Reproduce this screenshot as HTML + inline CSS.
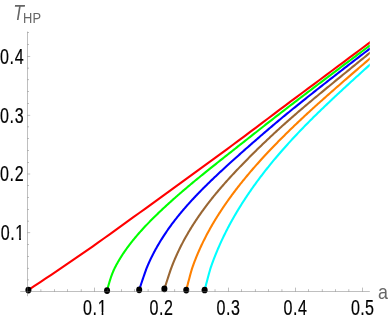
<!DOCTYPE html>
<html><head><meta charset="utf-8"><style>
html,body{margin:0;padding:0;background:#fff;overflow:hidden;}
svg{display:block;will-change:transform;font-family:"Liberation Sans",sans-serif;}
</style></head><body>
<svg width="388" height="319" viewBox="0 0 388 319">
<rect width="388" height="319" fill="#fff"/>
<defs><clipPath id="cp"><rect x="0" y="0" width="369.8" height="319"/></clipPath></defs>
<g clip-path="url(#cp)"><g><path d="M28.25 290.10 L34.09 286.21 L39.93 282.32 L45.77 278.43 L51.61 274.54 L57.45 270.62 L63.29 266.69 L69.13 262.73 L74.97 258.74 L80.81 254.71 L86.65 250.65 L92.49 246.55 L98.33 242.41 L104.17 238.25 L110.01 234.06 L115.85 229.85 L121.69 225.64 L127.53 221.42 L133.37 217.21 L139.21 213.00 L145.05 208.80 L150.89 204.58 L156.73 200.35 L162.57 196.11 L168.41 191.87 L174.25 187.61 L180.09 183.35 L185.93 179.10 L191.77 174.86 L197.61 170.62 L203.44 166.38 L209.28 162.14 L215.12 157.89 L220.96 153.62 L226.80 149.33 L232.64 145.02 L238.48 140.69 L244.32 136.33 L250.16 131.96 L256.00 127.57 L261.84 123.17 L267.68 118.76 L273.52 114.35 L279.36 109.96 L285.20 105.57 L291.04 101.20 L296.88 96.85 L302.72 92.50 L308.56 88.15 L314.40 83.81 L320.24 79.47 L326.08 75.12 L331.92 70.77 L337.76 66.42 L343.60 62.06 L349.44 57.70 L355.28 53.33 L361.12 48.97 L366.96 44.60 L372.80 40.22" stroke="#ff0000" stroke-width="2.10" fill="none" stroke-linejoin="round"/><path d="M107.05 290.60 L107.71 288.11 L108.36 285.72 L109.02 283.45 L109.67 281.28 L110.32 279.22 L110.97 277.26 L111.62 275.42 L112.27 273.68 L112.92 272.05 L113.57 270.53 L114.22 269.11 L114.86 267.80 L115.13 267.27 L115.40 266.74 L115.68 266.20 L115.97 265.66 L116.26 265.12 L116.55 264.57 L116.86 264.01 L117.16 263.46 L117.48 262.89 L117.80 262.33 L118.12 261.76 L118.45 261.19 L118.79 260.61 L119.13 260.03 L119.48 259.45 L119.84 258.86 L120.20 258.27 L120.56 257.67 L120.94 257.08 L121.32 256.48 L121.70 255.87 L122.09 255.26 L122.49 254.65 L122.89 254.04 L123.31 253.42 L123.72 252.80 L124.14 252.18 L124.57 251.55 L125.01 250.92 L125.45 250.29 L125.90 249.65 L126.36 249.01 L126.82 248.37 L127.29 247.73 L127.76 247.08 L128.24 246.43 L128.73 245.78 L129.23 245.12 L129.73 244.46 L130.24 243.80 L130.75 243.13 L131.27 242.47 L131.80 241.80 L132.34 241.12 L132.88 240.45 L133.43 239.77 L133.99 239.09 L134.55 238.40 L135.12 237.71 L135.70 237.02 L136.28 236.33 L136.88 235.63 L137.47 234.94 L138.08 234.23 L138.69 233.53 L139.32 232.82 L139.94 232.11 L140.58 231.40 L141.22 230.68 L141.87 229.97 L142.53 229.24 L143.19 228.52 L143.87 227.79 L144.54 227.06 L145.23 226.33 L145.93 225.59 L146.63 224.85 L147.34 224.11 L148.06 223.36 L148.78 222.61 L149.51 221.86 L150.25 221.11 L151.00 220.35 L151.76 219.59 L152.52 218.82 L153.29 218.05 L154.07 217.28 L154.86 216.51 L155.65 215.73 L156.45 214.95 L157.26 214.16 L158.08 213.37 L158.91 212.58 L159.74 211.79 L160.58 210.99 L161.44 210.18 L162.29 209.38 L163.16 208.57 L164.03 207.75 L164.92 206.94 L165.81 206.11 L166.71 205.29 L167.61 204.46 L168.53 203.63 L169.45 202.79 L170.39 201.95 L171.33 201.10 L172.27 200.25 L173.23 199.40 L174.20 198.54 L175.17 197.68 L176.15 196.81 L177.14 195.95 L178.14 195.07 L179.15 194.19 L180.17 193.31 L181.19 192.43 L182.23 191.54 L183.27 190.65 L184.32 189.75 L185.38 188.85 L186.44 187.94 L187.52 187.04 L188.61 186.12 L189.70 185.21 L190.80 184.28 L191.91 183.36 L193.04 182.43 L194.16 181.49 L195.30 180.55 L196.45 179.61 L197.61 178.66 L198.77 177.71 L199.94 176.75 L201.13 175.78 L202.32 174.82 L203.52 173.84 L204.73 172.86 L205.95 171.88 L207.18 170.89 L208.41 169.90 L209.66 168.90 L210.91 167.89 L212.18 166.88 L213.45 165.86 L214.74 164.84 L216.03 163.81 L217.33 162.77 L218.64 161.73 L219.96 160.68 L221.29 159.63 L222.63 158.57 L223.98 157.50 L225.33 156.43 L226.70 155.35 L228.08 154.26 L229.46 153.17 L230.86 152.06 L232.26 150.95 L233.68 149.84 L235.10 148.72 L236.53 147.59 L237.98 146.45 L239.43 145.30 L240.89 144.15 L242.36 142.99 L243.84 141.82 L245.34 140.65 L246.84 139.46 L248.35 138.27 L249.87 137.08 L251.40 135.87 L252.94 134.66 L254.49 133.44 L256.05 132.21 L257.62 130.98 L259.20 129.74 L260.78 128.49 L262.38 127.24 L263.99 125.97 L265.61 124.70 L267.24 123.43 L268.88 122.15 L270.53 120.86 L272.19 119.56 L273.86 118.26 L275.54 116.95 L277.23 115.64 L278.93 114.32 L280.64 112.99 L282.36 111.66 L284.09 110.32 L285.83 108.98 L287.58 107.63 L289.34 106.28 L291.11 104.92 L292.89 103.56 L294.68 102.19 L296.48 100.81 L298.30 99.43 L300.12 98.04 L301.95 96.64 L303.79 95.24 L305.65 93.83 L307.51 92.41 L309.39 90.99 L311.27 89.56 L313.17 88.12 L315.07 86.68 L316.99 85.22 L318.92 83.77 L320.86 82.30 L322.81 80.83 L324.76 79.35 L326.73 77.86 L328.71 76.37 L330.71 74.86 L332.71 73.36 L334.72 71.84 L336.74 70.32 L338.78 68.79 L340.82 67.25 L342.88 65.71 L344.94 64.16 L347.02 62.60 L349.11 61.04 L351.21 59.47 L353.32 57.89 L355.44 56.30 L357.57 54.71 L359.71 53.11 L361.87 51.51 L364.03 49.89 L366.21 48.28 L368.39 46.65 L370.59 45.02 L372.80 43.38" stroke="#00ff00" stroke-width="2.10" fill="none" stroke-linejoin="round"/><path d="M139.20 289.80 L140.19 286.81 L141.12 284.03 L141.98 281.46 L142.77 279.11 L143.50 276.97 L144.16 275.04 L144.75 273.32 L145.28 271.82 L145.74 270.53 L146.13 269.45 L146.46 268.59 L146.72 267.93 L146.95 267.38 L147.18 266.81 L147.42 266.25 L147.66 265.67 L147.91 265.10 L148.16 264.51 L148.42 263.92 L148.68 263.33 L148.95 262.73 L149.22 262.13 L149.50 261.52 L149.78 260.91 L150.07 260.29 L150.36 259.67 L150.66 259.04 L150.96 258.41 L151.27 257.77 L151.58 257.13 L151.90 256.49 L152.22 255.84 L152.55 255.18 L152.89 254.52 L153.23 253.86 L153.57 253.20 L153.93 252.53 L154.28 251.85 L154.64 251.17 L155.01 250.49 L155.39 249.80 L155.76 249.12 L156.15 248.42 L156.54 247.72 L156.94 247.02 L157.34 246.32 L157.74 245.61 L158.16 244.90 L158.58 244.18 L159.00 243.46 L159.43 242.74 L159.87 242.02 L160.31 241.29 L160.76 240.56 L161.22 239.82 L161.68 239.08 L162.14 238.34 L162.62 237.59 L163.09 236.85 L163.58 236.10 L164.07 235.34 L164.57 234.58 L165.07 233.82 L165.58 233.06 L166.10 232.29 L166.62 231.53 L167.15 230.75 L167.68 229.98 L168.22 229.20 L168.77 228.42 L169.32 227.64 L169.88 226.85 L170.45 226.06 L171.02 225.27 L171.61 224.48 L172.21 223.68 L172.81 222.88 L173.42 222.08 L174.04 221.27 L174.66 220.46 L175.29 219.65 L175.93 218.84 L176.57 218.03 L177.22 217.21 L177.88 216.39 L178.54 215.57 L179.22 214.74 L179.89 213.92 L180.58 213.09 L181.27 212.26 L181.97 211.42 L182.67 210.59 L183.38 209.75 L184.10 208.91 L184.83 208.07 L185.56 207.23 L186.30 206.38 L187.05 205.53 L187.80 204.68 L188.57 203.83 L189.33 202.98 L190.11 202.12 L190.89 201.26 L191.68 200.40 L192.48 199.54 L193.29 198.67 L194.10 197.80 L194.92 196.93 L195.74 196.06 L196.58 195.18 L197.42 194.30 L198.27 193.42 L199.12 192.54 L199.98 191.65 L200.86 190.77 L201.73 189.87 L202.62 188.98 L203.51 188.08 L204.41 187.18 L205.32 186.28 L206.24 185.38 L207.16 184.47 L208.09 183.56 L209.03 182.64 L209.98 181.72 L210.93 180.80 L211.89 179.88 L212.86 178.95 L213.84 178.02 L214.82 177.08 L215.81 176.14 L216.81 175.20 L217.82 174.25 L218.84 173.30 L219.86 172.35 L220.89 171.39 L221.93 170.42 L222.98 169.46 L224.03 168.48 L225.10 167.51 L226.17 166.53 L227.25 165.54 L228.33 164.55 L229.43 163.56 L230.53 162.56 L231.64 161.55 L232.76 160.54 L233.89 159.53 L235.03 158.51 L236.17 157.48 L237.32 156.45 L238.48 155.41 L239.65 154.37 L240.83 153.33 L242.01 152.27 L243.20 151.22 L244.41 150.15 L245.61 149.08 L246.83 148.01 L248.06 146.93 L249.29 145.84 L250.54 144.75 L251.79 143.66 L253.05 142.56 L254.32 141.45 L255.59 140.34 L256.88 139.22 L258.17 138.09 L259.47 136.97 L260.78 135.83 L262.10 134.69 L263.43 133.55 L264.77 132.40 L266.11 131.25 L267.46 130.09 L268.83 128.92 L270.20 127.76 L271.58 126.58 L272.96 125.41 L274.36 124.23 L275.77 123.04 L277.18 121.85 L278.60 120.66 L280.03 119.46 L281.47 118.26 L282.92 117.06 L284.38 115.85 L285.85 114.64 L287.32 113.42 L288.81 112.21 L290.30 110.99 L291.81 109.76 L293.32 108.54 L294.84 107.31 L296.37 106.07 L297.90 104.83 L299.45 103.59 L301.01 102.34 L302.57 101.09 L304.15 99.83 L305.73 98.56 L307.32 97.29 L308.93 96.01 L310.54 94.73 L312.16 93.45 L313.79 92.15 L315.42 90.86 L317.07 89.55 L318.73 88.24 L320.40 86.93 L322.07 85.61 L323.75 84.29 L325.45 82.96 L327.15 81.62 L328.86 80.28 L330.59 78.93 L332.32 77.58 L334.06 76.22 L335.81 74.86 L337.57 73.49 L339.34 72.11 L341.11 70.73 L342.90 69.35 L344.70 67.95 L346.50 66.56 L348.32 65.15 L350.15 63.75 L351.98 62.33 L353.83 60.91 L355.68 59.49 L357.54 58.06 L359.42 56.62 L361.30 55.18 L363.19 53.73 L365.09 52.28 L367.01 50.82 L368.93 49.35 L370.86 47.88 L372.80 46.41" stroke="#0000ff" stroke-width="2.10" fill="none" stroke-linejoin="round"/><path d="M164.40 288.85 L165.34 285.95 L166.21 283.26 L167.01 280.77 L167.76 278.49 L168.44 276.41 L169.05 274.54 L169.61 272.88 L170.10 271.42 L170.52 270.17 L170.88 269.13 L171.18 268.29 L171.41 267.66 L171.63 267.09 L171.85 266.51 L172.07 265.93 L172.30 265.34 L172.53 264.75 L172.77 264.15 L173.01 263.55 L173.25 262.94 L173.50 262.32 L173.76 261.70 L174.02 261.07 L174.28 260.44 L174.55 259.81 L174.82 259.16 L175.10 258.52 L175.38 257.86 L175.67 257.21 L175.96 256.55 L176.26 255.88 L176.56 255.21 L176.87 254.53 L177.18 253.85 L177.49 253.16 L177.82 252.47 L178.14 251.78 L178.47 251.08 L178.81 250.38 L179.15 249.67 L179.50 248.96 L179.85 248.24 L180.20 247.52 L180.57 246.79 L180.93 246.07 L181.30 245.33 L181.68 244.60 L182.06 243.86 L182.45 243.11 L182.84 242.37 L183.24 241.62 L183.65 240.86 L184.05 240.10 L184.47 239.34 L184.89 238.58 L185.31 237.81 L185.74 237.04 L186.18 236.26 L186.62 235.49 L187.07 234.70 L187.52 233.92 L187.98 233.13 L188.44 232.34 L188.91 231.55 L189.39 230.75 L189.87 229.95 L190.35 229.15 L190.84 228.35 L191.34 227.54 L191.85 226.73 L192.35 225.92 L192.87 225.10 L193.39 224.28 L193.92 223.46 L194.45 222.64 L194.99 221.82 L195.53 220.99 L196.08 220.16 L196.64 219.32 L197.20 218.49 L197.77 217.65 L198.34 216.81 L198.92 215.97 L199.51 215.12 L200.10 214.28 L200.70 213.43 L201.30 212.57 L201.91 211.72 L202.53 210.86 L203.15 210.01 L203.78 209.15 L204.41 208.28 L205.05 207.42 L205.70 206.55 L206.36 205.68 L207.02 204.81 L207.68 203.93 L208.35 203.06 L209.03 202.18 L209.72 201.30 L210.41 200.41 L211.11 199.53 L211.81 198.64 L212.52 197.75 L213.24 196.86 L213.97 195.96 L214.70 195.07 L215.44 194.17 L216.19 193.26 L216.95 192.36 L217.72 191.45 L218.49 190.54 L219.26 189.63 L220.05 188.72 L220.84 187.80 L221.64 186.88 L222.44 185.96 L223.25 185.03 L224.07 184.10 L224.89 183.17 L225.73 182.24 L226.56 181.30 L227.41 180.36 L228.26 179.42 L229.12 178.48 L229.98 177.53 L230.86 176.58 L231.74 175.62 L232.62 174.66 L233.51 173.70 L234.41 172.74 L235.32 171.77 L236.24 170.80 L237.16 169.83 L238.08 168.85 L239.02 167.87 L239.96 166.89 L240.91 165.90 L241.87 164.91 L242.83 163.91 L243.80 162.92 L244.78 161.91 L245.76 160.91 L246.76 159.90 L247.76 158.89 L248.76 157.87 L249.78 156.85 L250.80 155.83 L251.83 154.80 L252.86 153.77 L253.91 152.74 L254.96 151.70 L256.01 150.66 L257.08 149.62 L258.15 148.57 L259.23 147.52 L260.32 146.47 L261.41 145.41 L262.52 144.35 L263.63 143.28 L264.74 142.21 L265.87 141.14 L267.00 140.07 L268.14 138.99 L269.29 137.91 L270.44 136.82 L271.61 135.74 L272.78 134.65 L273.95 133.55 L275.14 132.46 L276.33 131.36 L277.53 130.26 L278.74 129.16 L279.96 128.05 L281.18 126.94 L282.41 125.83 L283.65 124.71 L284.90 123.60 L286.15 122.48 L287.42 121.36 L288.69 120.24 L289.97 119.11 L291.25 117.98 L292.55 116.85 L293.85 115.72 L295.16 114.59 L296.48 113.45 L297.80 112.31 L299.14 111.16 L300.48 110.02 L301.83 108.86 L303.18 107.71 L304.55 106.55 L305.92 105.38 L307.31 104.22 L308.70 103.04 L310.09 101.87 L311.50 100.69 L312.91 99.51 L314.33 98.32 L315.77 97.13 L317.20 95.93 L318.65 94.73 L320.10 93.53 L321.57 92.32 L323.04 91.10 L324.52 89.88 L326.01 88.66 L327.50 87.42 L329.01 86.19 L330.52 84.94 L332.04 83.70 L333.57 82.44 L335.11 81.18 L336.65 79.91 L338.21 78.64 L339.77 77.36 L341.34 76.08 L342.92 74.79 L344.51 73.49 L346.10 72.19 L347.71 70.88 L349.32 69.57 L350.94 68.24 L352.57 66.92 L354.21 65.58 L355.86 64.24 L357.51 62.90 L359.18 61.54 L360.85 60.18 L362.53 58.82 L364.22 57.44 L365.92 56.06 L367.63 54.68 L369.34 53.29 L371.07 51.89 L372.80 50.48" stroke="#996633" stroke-width="2.10" fill="none" stroke-linejoin="round"/><path d="M186.25 290.05 L187.04 287.01 L187.77 284.19 L188.45 281.59 L189.09 279.20 L189.67 277.03 L190.19 275.07 L190.67 273.33 L191.10 271.80 L191.47 270.50 L191.79 269.40 L192.06 268.52 L192.28 267.86 L192.47 267.31 L192.66 266.75 L192.86 266.19 L193.06 265.62 L193.27 265.05 L193.48 264.47 L193.69 263.88 L193.91 263.29 L194.13 262.70 L194.35 262.10 L194.58 261.49 L194.82 260.88 L195.05 260.27 L195.30 259.65 L195.54 259.02 L195.79 258.39 L196.05 257.76 L196.30 257.12 L196.57 256.47 L196.83 255.82 L197.11 255.17 L197.38 254.51 L197.66 253.84 L197.95 253.18 L198.24 252.50 L198.53 251.83 L198.83 251.14 L199.13 250.46 L199.44 249.77 L199.75 249.07 L200.06 248.37 L200.38 247.67 L200.71 246.96 L201.04 246.25 L201.37 245.53 L201.71 244.81 L202.06 244.09 L202.41 243.36 L202.76 242.63 L203.12 241.90 L203.48 241.16 L203.85 240.41 L204.22 239.67 L204.60 238.92 L204.98 238.16 L205.36 237.40 L205.76 236.64 L206.15 235.88 L206.56 235.11 L206.96 234.34 L207.37 233.56 L207.79 232.78 L208.21 232.00 L208.64 231.22 L209.07 230.43 L209.51 229.64 L209.95 228.84 L210.40 228.04 L210.85 227.24 L211.30 226.44 L211.77 225.63 L212.24 224.82 L212.71 224.00 L213.19 223.19 L213.68 222.37 L214.17 221.54 L214.67 220.72 L215.17 219.89 L215.68 219.06 L216.20 218.22 L216.72 217.39 L217.24 216.55 L217.77 215.71 L218.31 214.86 L218.85 214.01 L219.39 213.16 L219.94 212.31 L220.50 211.45 L221.06 210.59 L221.63 209.73 L222.21 208.87 L222.79 208.00 L223.37 207.14 L223.96 206.26 L224.56 205.39 L225.16 204.52 L225.77 203.64 L226.38 202.76 L227.00 201.87 L227.63 200.99 L228.26 200.10 L228.89 199.21 L229.53 198.32 L230.18 197.42 L230.84 196.52 L231.50 195.62 L232.16 194.72 L232.83 193.82 L233.51 192.91 L234.19 192.00 L234.88 191.09 L235.58 190.18 L236.28 189.26 L236.98 188.34 L237.70 187.42 L238.41 186.50 L239.14 185.58 L239.87 184.65 L240.61 183.72 L241.35 182.79 L242.10 181.86 L242.85 180.92 L243.62 179.98 L244.38 179.04 L245.16 178.10 L245.94 177.15 L246.72 176.21 L247.51 175.26 L248.31 174.31 L249.12 173.35 L249.93 172.40 L250.74 171.44 L251.57 170.48 L252.40 169.52 L253.23 168.55 L254.07 167.58 L254.92 166.61 L255.78 165.64 L256.64 164.67 L257.51 163.69 L258.38 162.71 L259.26 161.73 L260.15 160.75 L261.04 159.76 L261.94 158.77 L262.85 157.78 L263.76 156.79 L264.68 155.80 L265.60 154.80 L266.54 153.80 L267.48 152.80 L268.42 151.79 L269.37 150.78 L270.33 149.78 L271.30 148.76 L272.27 147.75 L273.25 146.73 L274.23 145.71 L275.22 144.69 L276.22 143.67 L277.23 142.64 L278.24 141.61 L279.26 140.58 L280.28 139.54 L281.32 138.50 L282.36 137.46 L283.40 136.42 L284.45 135.38 L285.51 134.33 L286.58 133.28 L287.65 132.22 L288.73 131.17 L289.82 130.11 L290.91 129.05 L292.02 127.98 L293.12 126.92 L294.24 125.85 L295.36 124.77 L296.49 123.70 L297.62 122.62 L298.77 121.54 L299.92 120.45 L301.07 119.37 L302.24 118.28 L303.41 117.19 L304.58 116.09 L305.77 114.99 L306.96 113.89 L308.16 112.78 L309.37 111.68 L310.58 110.57 L311.80 109.45 L313.03 108.33 L314.26 107.21 L315.51 106.09 L316.75 104.96 L318.01 103.84 L319.27 102.70 L320.55 101.57 L321.82 100.43 L323.11 99.28 L324.40 98.13 L325.70 96.98 L327.01 95.82 L328.33 94.66 L329.65 93.49 L330.98 92.32 L332.31 91.14 L333.66 89.96 L335.01 88.77 L336.37 87.58 L337.74 86.38 L339.11 85.18 L340.49 83.97 L341.88 82.76 L343.28 81.54 L344.68 80.32 L346.09 79.09 L347.51 77.86 L348.94 76.62 L350.37 75.38 L351.81 74.13 L353.26 72.87 L354.72 71.61 L356.18 70.35 L357.66 69.08 L359.14 67.80 L360.62 66.52 L362.12 65.23 L363.62 63.94 L365.13 62.64 L366.65 61.33 L368.18 60.02 L369.71 58.71 L371.25 57.38 L372.80 56.06" stroke="#ff8000" stroke-width="2.10" fill="none" stroke-linejoin="round"/><path d="M204.65 290.00 L205.45 286.92 L206.20 284.06 L206.90 281.42 L207.54 279.00 L208.13 276.79 L208.67 274.81 L209.15 273.04 L209.58 271.49 L209.96 270.17 L210.29 269.06 L210.56 268.16 L210.78 267.49 L210.97 266.94 L211.16 266.38 L211.36 265.81 L211.56 265.24 L211.77 264.66 L211.97 264.08 L212.19 263.49 L212.40 262.90 L212.62 262.30 L212.84 261.69 L213.07 261.08 L213.30 260.46 L213.54 259.84 L213.77 259.21 L214.02 258.58 L214.26 257.94 L214.51 257.30 L214.77 256.65 L215.02 256.00 L215.29 255.34 L215.55 254.67 L215.82 254.01 L216.10 253.33 L216.37 252.65 L216.66 251.97 L216.94 251.28 L217.23 250.59 L217.53 249.89 L217.83 249.19 L218.13 248.48 L218.44 247.77 L218.75 247.05 L219.07 246.33 L219.39 245.61 L219.71 244.88 L220.04 244.15 L220.37 243.41 L220.71 242.67 L221.05 241.92 L221.40 241.17 L221.75 240.42 L222.10 239.66 L222.46 238.89 L222.82 238.13 L223.19 237.36 L223.57 236.58 L223.94 235.80 L224.32 235.02 L224.71 234.24 L225.10 233.45 L225.50 232.65 L225.90 231.86 L226.30 231.06 L226.71 230.25 L227.12 229.45 L227.54 228.64 L227.97 227.82 L228.39 227.00 L228.83 226.18 L229.26 225.36 L229.71 224.53 L230.16 223.70 L230.61 222.87 L231.07 222.03 L231.53 221.19 L232.00 220.35 L232.47 219.50 L232.95 218.66 L233.44 217.80 L233.92 216.95 L234.42 216.09 L234.91 215.23 L235.42 214.37 L235.92 213.50 L236.44 212.64 L236.95 211.76 L237.48 210.89 L238.01 210.01 L238.54 209.14 L239.08 208.25 L239.62 207.37 L240.17 206.48 L240.72 205.59 L241.28 204.70 L241.84 203.81 L242.41 202.91 L242.99 202.01 L243.56 201.11 L244.15 200.21 L244.74 199.31 L245.33 198.40 L245.93 197.49 L246.54 196.58 L247.15 195.66 L247.77 194.75 L248.39 193.83 L249.01 192.91 L249.65 191.98 L250.28 191.06 L250.93 190.13 L251.58 189.20 L252.23 188.27 L252.89 187.34 L253.55 186.40 L254.22 185.47 L254.90 184.53 L255.58 183.59 L256.27 182.64 L256.96 181.70 L257.66 180.75 L258.36 179.80 L259.07 178.85 L259.78 177.90 L260.50 176.95 L261.23 175.99 L261.96 175.03 L262.70 174.07 L263.44 173.11 L264.19 172.15 L264.94 171.18 L265.70 170.21 L266.47 169.24 L267.24 168.27 L268.01 167.30 L268.80 166.33 L269.59 165.35 L270.38 164.37 L271.18 163.39 L271.99 162.41 L272.80 161.43 L273.61 160.44 L274.44 159.45 L275.27 158.46 L276.10 157.47 L276.94 156.48 L277.79 155.49 L278.64 154.49 L279.50 153.49 L280.37 152.49 L281.24 151.49 L282.11 150.49 L283.00 149.48 L283.89 148.48 L284.78 147.47 L285.68 146.46 L286.59 145.44 L287.50 144.43 L288.42 143.41 L289.35 142.39 L290.28 141.37 L291.21 140.35 L292.16 139.33 L293.11 138.30 L294.06 137.27 L295.02 136.24 L295.99 135.21 L296.97 134.18 L297.95 133.14 L298.93 132.11 L299.93 131.07 L300.93 130.03 L301.93 128.98 L302.94 127.94 L303.96 126.89 L304.99 125.84 L306.02 124.79 L307.05 123.74 L308.10 122.68 L309.15 121.62 L310.20 120.56 L311.27 119.50 L312.33 118.44 L313.41 117.37 L314.49 116.30 L315.58 115.23 L316.67 114.16 L317.77 113.08 L318.88 112.01 L320.00 110.93 L321.12 109.84 L322.24 108.76 L323.38 107.67 L324.52 106.58 L325.66 105.48 L326.82 104.38 L327.98 103.28 L329.14 102.17 L330.32 101.06 L331.49 99.95 L332.68 98.83 L333.87 97.71 L335.07 96.59 L336.28 95.46 L337.49 94.33 L338.71 93.19 L339.94 92.05 L341.17 90.90 L342.41 89.76 L343.66 88.60 L344.91 87.45 L346.17 86.29 L347.43 85.12 L348.71 83.95 L349.99 82.78 L351.28 81.60 L352.57 80.42 L353.87 79.24 L355.18 78.05 L356.49 76.85 L357.81 75.66 L359.14 74.45 L360.47 73.24 L361.82 72.03 L363.17 70.82 L364.52 69.59 L365.88 68.37 L367.25 67.14 L368.63 65.90 L370.01 64.66 L371.40 63.42 L372.80 62.17" stroke="#00ffff" stroke-width="2.10" fill="none" stroke-linejoin="round"/></g></g>
<g><ellipse cx="28.40" cy="290.10" rx="3.02" ry="3.36" fill="#000"/><ellipse cx="107.05" cy="290.60" rx="3.02" ry="3.36" fill="#000"/><ellipse cx="139.20" cy="289.80" rx="3.02" ry="3.36" fill="#000"/><ellipse cx="164.40" cy="288.85" rx="3.02" ry="3.36" fill="#000"/><ellipse cx="186.25" cy="290.05" rx="3.02" ry="3.36" fill="#000"/><ellipse cx="204.65" cy="290.00" rx="3.02" ry="3.36" fill="#000"/></g>
<g><rect x="20.20" y="291.29" width="349.60" height="0.42" fill="#666"/><rect x="27.29" y="31.60" width="0.42" height="264.60" fill="#666"/><rect x="40.73" y="289.20" width="0.42" height="2.30" fill="#666"/><rect x="54.12" y="289.20" width="0.42" height="2.30" fill="#666"/><rect x="67.51" y="289.20" width="0.42" height="2.30" fill="#666"/><rect x="80.90" y="289.20" width="0.42" height="2.30" fill="#666"/><rect x="94.29" y="287.60" width="0.42" height="3.90" fill="#666"/><rect x="107.68" y="289.20" width="0.42" height="2.30" fill="#666"/><rect x="121.07" y="289.20" width="0.42" height="2.30" fill="#666"/><rect x="134.46" y="289.20" width="0.42" height="2.30" fill="#666"/><rect x="147.85" y="289.20" width="0.42" height="2.30" fill="#666"/><rect x="161.24" y="287.60" width="0.42" height="3.90" fill="#666"/><rect x="174.63" y="289.20" width="0.42" height="2.30" fill="#666"/><rect x="188.02" y="289.20" width="0.42" height="2.30" fill="#666"/><rect x="201.41" y="289.20" width="0.42" height="2.30" fill="#666"/><rect x="214.80" y="289.20" width="0.42" height="2.30" fill="#666"/><rect x="228.19" y="287.60" width="0.42" height="3.90" fill="#666"/><rect x="241.58" y="289.20" width="0.42" height="2.30" fill="#666"/><rect x="254.97" y="289.20" width="0.42" height="2.30" fill="#666"/><rect x="268.36" y="289.20" width="0.42" height="2.30" fill="#666"/><rect x="281.75" y="289.20" width="0.42" height="2.30" fill="#666"/><rect x="295.14" y="287.60" width="0.42" height="3.90" fill="#666"/><rect x="308.53" y="289.20" width="0.42" height="2.30" fill="#666"/><rect x="321.92" y="289.20" width="0.42" height="2.30" fill="#666"/><rect x="335.31" y="289.20" width="0.42" height="2.30" fill="#666"/><rect x="348.70" y="289.20" width="0.42" height="2.30" fill="#666"/><rect x="362.09" y="287.60" width="0.42" height="3.90" fill="#666"/><rect x="27.50" y="279.72" width="1.50" height="0.42" fill="#666"/><rect x="27.50" y="267.95" width="1.50" height="0.42" fill="#666"/><rect x="27.50" y="256.18" width="1.50" height="0.42" fill="#666"/><rect x="27.50" y="244.41" width="1.50" height="0.42" fill="#666"/><rect x="27.50" y="232.64" width="2.70" height="0.42" fill="#666"/><rect x="27.50" y="220.87" width="1.50" height="0.42" fill="#666"/><rect x="27.50" y="209.10" width="1.50" height="0.42" fill="#666"/><rect x="27.50" y="197.33" width="1.50" height="0.42" fill="#666"/><rect x="27.50" y="185.56" width="1.50" height="0.42" fill="#666"/><rect x="27.50" y="173.79" width="2.70" height="0.42" fill="#666"/><rect x="27.50" y="162.02" width="1.50" height="0.42" fill="#666"/><rect x="27.50" y="150.25" width="1.50" height="0.42" fill="#666"/><rect x="27.50" y="138.48" width="1.50" height="0.42" fill="#666"/><rect x="27.50" y="126.71" width="1.50" height="0.42" fill="#666"/><rect x="27.50" y="114.94" width="2.70" height="0.42" fill="#666"/><rect x="27.50" y="103.17" width="1.50" height="0.42" fill="#666"/><rect x="27.50" y="91.40" width="1.50" height="0.42" fill="#666"/><rect x="27.50" y="79.63" width="1.50" height="0.42" fill="#666"/><rect x="27.50" y="67.86" width="1.50" height="0.42" fill="#666"/><rect x="27.50" y="56.09" width="2.70" height="0.42" fill="#666"/><rect x="27.50" y="44.32" width="1.50" height="0.42" fill="#666"/><rect x="27.50" y="32.55" width="1.50" height="0.42" fill="#666"/></g>
<g><text transform="translate(83.10 314.5) scale(0.730 1)" font-size="22.0" letter-spacing="0.80" fill="#000" stroke="#000" stroke-width="0.20">0.1</text><text transform="translate(149.55 314.5) scale(0.730 1)" font-size="22.0" letter-spacing="0.80" fill="#000" stroke="#000" stroke-width="0.20">0.2</text><text transform="translate(216.50 314.5) scale(0.730 1)" font-size="22.0" letter-spacing="0.80" fill="#000" stroke="#000" stroke-width="0.20">0.3</text><text transform="translate(283.45 314.5) scale(0.730 1)" font-size="22.0" letter-spacing="0.80" fill="#000" stroke="#000" stroke-width="0.20">0.4</text><text transform="translate(351.00 314.5) scale(0.730 1)" font-size="22.0" letter-spacing="0.50" fill="#000" stroke="#000" stroke-width="0.20">0.5</text><text transform="translate(0.80 239.70) scale(0.730 1)" font-size="22.0" letter-spacing="0.80" fill="#000" stroke="#000" stroke-width="0.20">0.1</text><text transform="translate(0.10 181.00) scale(0.730 1)" font-size="22.0" letter-spacing="0.80" fill="#000" stroke="#000" stroke-width="0.20">0.2</text><text transform="translate(0.10 122.80) scale(0.730 1)" font-size="22.0" letter-spacing="0.80" fill="#000" stroke="#000" stroke-width="0.20">0.3</text><text transform="translate(0.10 64.00) scale(0.730 1)" font-size="22.0" letter-spacing="0.80" fill="#000" stroke="#000" stroke-width="0.20">0.4</text><text transform="translate(377.9 298.8) scale(0.85 1)" font-size="21" fill="#666">a</text><text transform="translate(13.2 19.6) scale(0.8 1)" font-size="22" fill="#666" font-style="italic">T</text><text transform="translate(23.1 23.1) scale(0.87 1)" font-size="14.8" fill="#666">HP</text><rect x="97.3" y="312.2" width="4.37" height="2.8" fill="#fff"/><rect x="103.33" y="312.2" width="3.4" height="2.8" fill="#fff"/><rect x="15.3" y="237.5" width="3.82" height="2.8" fill="#fff"/><rect x="20.88" y="237.5" width="3.4" height="2.8" fill="#fff"/></g>
</svg>
</body></html>
